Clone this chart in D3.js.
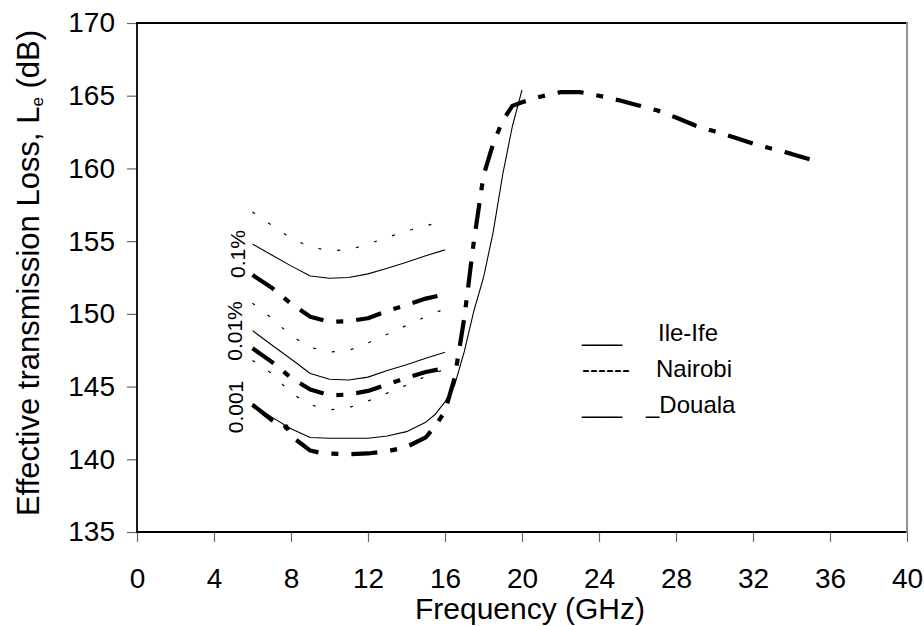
<!DOCTYPE html>
<html><head><meta charset="utf-8">
<script src="https://cdn.jsdelivr.net/npm/d3@7/dist/d3.min.js"></script>
<style>
body{margin:0;background:#fff}
svg{display:block}
text{font-family:"Liberation Sans",Arial,sans-serif;fill:#000}
</style>
</head><body>
<svg id="chart" width="924" height="626"></svg>
<script>
// ---------- data ----------
const xTickValues = [0,4,8,12,16,20,24,28,32,36,40];
const yTickValues = [135,140,145,150,155,160,165,170];

const freqBand = [6,7,8,9,10,11,12,13,14,15,16];

// 0.1% group
const ileIfe_01  = [154.8,154.05,153.3,152.6,152.45,152.5,152.75,153.13,153.55,154.0,154.4];
const nairobi_01 = [157.0,156.1,155.2,154.6,154.35,154.4,154.8,155.25,155.7,156.05,156.4];
const douala_01  = [152.67,151.8,150.7,149.8,149.45,149.5,149.7,150.2,150.6,151.05,151.35];

// 0.01% group
const ileIfe_001  = [148.85,147.86,146.9,145.9,145.5,145.45,145.65,146.1,146.5,146.95,147.36];
const nairobi_001 = [150.73,149.7,148.5,147.7,147.38,147.48,148.0,148.6,149.2,149.8,150.35];
const douala_001  = [147.63,146.7,145.6,144.8,144.4,144.45,144.7,145.15,145.6,146.0,146.26];

// 0.001% group
const freqIleIfe_0001 = [6,7,8,9,10,11,12,13,14,15,15.5,16,16.5,17,17.5,18,18.5,19,19.5,20];
const ileIfe_0001     = [143.8,142.9,142.1,141.5,141.45,141.45,141.45,141.6,141.9,142.55,143.1,143.95,145.1,147.4,150.2,152.5,155.6,159.6,162.9,165.4];

const freqNairobi_0001 = [6,7,8,9,10,11,12,13,14,15,16];
const nairobi_0001     = [146.8,145.9,144.55,143.75,143.4,143.55,144.0,144.55,145.1,145.7,146.2];

const freqDouala_0001 = [6,7,7.6,7.75,8,8.5,9,9.5,10,11,12,13,14,15,15.5,16,16.5,17,17.5,18,18.5,19,19.5,20,21,22,23,24,25,26,27,28,29,30,31,32,33,34,35];
const douala_0001     = [143.75,142.7,142.15,142.25,141.6,141.1,140.6,140.45,140.4,140.35,140.4,140.55,140.85,141.5,142.3,143.3,145.6,149.7,155.0,159.5,161.7,163.3,164.3,164.55,164.95,165.25,165.25,165.0,164.7,164.35,164.0,163.5,162.95,162.55,162.15,161.7,161.35,161.0,160.6];

const percentLabels = ["0.1%","0.01%","0.001"];
const legendNames   = ["Ile-Ife","Nairobi","_Douala"];
const legendSymbols = ["___","------","___"];

// ---------- layout ----------
const svg = d3.select("#chart");
const L = 137, R = 907, T = 23, B = 532;
const x = d3.scaleLinear().domain([0,40]).range([L,R]);
const y = d3.scaleLinear().domain([135,170]).range([B,T]);

svg.append("rect").attr("width",924).attr("height",626).attr("fill","#fff");

// axes
const xAxis = svg.append("g").attr("transform",`translate(0,${B})`)
  .call(d3.axisBottom(x).tickValues(xTickValues).tickSize(10).tickPadding(26).tickFormat(d3.format("d")));
const yAxis = svg.append("g").attr("transform",`translate(${L},0)`)
  .call(d3.axisLeft(y).tickValues(yTickValues).tickSize(10).tickPadding(12).tickFormat(d3.format("d")));
[xAxis,yAxis].forEach(g=>{
  g.select(".domain").remove();
  g.selectAll(".tick line").attr("stroke","#666").attr("stroke-width",1.2);
  g.selectAll(".tick text").attr("font-size",28).attr("font-family","Liberation Sans, Arial, sans-serif").attr("fill","#000");
});

// frame
const frame = [
  [L,T,R,T,"#000"],[L,T,L,B,"#000"],[L,B,R,B,"#000"],[R,T,R,B,"#888"]
];
frame.forEach(([x1,y1,x2,y2,c])=>{
  svg.append("line").attr("x1",x1).attr("y1",y1).attr("x2",x2).attr("y2",y2)
    .attr("stroke",c).attr("stroke-width",1.8).attr("stroke-linecap","square");
});

// series
const line = d3.line().x(d=>x(d[0])).y(d=>y(d[1]));
const zip = (xs,ys)=>xs.map((v,i)=>[v,ys[i]]);

const styles = {
  ile: {w:1.1, dash:null},
  nai: {w:1.2, dash:"3,16"},
  dou: {w:4.2, dash:"26,13,7,13"}
};
const series = [
  [freqBand, ileIfe_01, "ile"],
  [freqBand, nairobi_01, "nai"],
  [freqBand, douala_01, "dou"],
  [freqBand, ileIfe_001, "ile"],
  [freqBand, nairobi_001, "nai"],
  [freqBand, douala_001, "dou"],
  [freqIleIfe_0001, ileIfe_0001, "ile"],
  [freqNairobi_0001, nairobi_0001, "nai"],
  [freqDouala_0001, douala_0001, "dou"]
];
series.forEach(([xs,ys,k])=>{
  const p = svg.append("path").datum(zip(xs,ys)).attr("d",line)
    .attr("fill","none").attr("stroke","#000").attr("stroke-width",styles[k].w)
    .attr("stroke-linejoin","round");
  if(styles[k].dash) p.attr("stroke-dasharray",styles[k].dash);
});

// percent labels (rotated)
const pctPos = [[245,254],[241.5,331],[243,407]];
percentLabels.forEach((t,i)=>{
  svg.append("text").attr("transform",`translate(${pctPos[i][0]},${pctPos[i][1]}) rotate(-90)`)
    .attr("text-anchor","middle").attr("font-size",21).text(t);
});

// legend
const legY = [341,377,413];
const legX = [658,656,646];
legendNames.forEach((n,i)=>{
  svg.append("text").attr("x",582).attr("y",legY[i]).attr("font-size",24).text(legendSymbols[i]);
  svg.append("text").attr("x",legX[i]).attr("y",legY[i]).attr("font-size",24).text(n);
});

// axis titles
svg.append("text").attr("x",530).attr("y",619).attr("text-anchor","middle")
  .attr("font-size",30).text("Frequency (GHz)");
const yt = svg.append("text").attr("transform","translate(39,273) rotate(-90)")
  .attr("text-anchor","middle").attr("font-size",31);
yt.append("tspan").text("Effective transmission Loss, L");
yt.append("tspan").attr("font-size",17).attr("dy",4).text("e");
yt.append("tspan").attr("dy",-4).text(" (dB)");
</script>
</body></html>
